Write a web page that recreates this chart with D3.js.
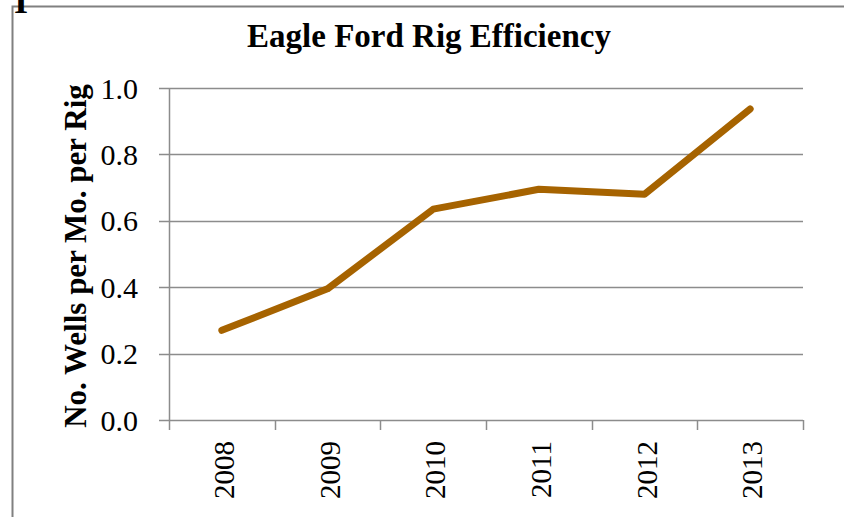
<!DOCTYPE html>
<html>
<head>
<meta charset="utf-8">
<script src="https://cdn.jsdelivr.net/npm/d3@7"></script>
<style>
  body { margin: 0; background: #fff; }
  text { font-family: "Liberation Serif", "Times New Roman", serif; }
</style>
</head>
<body>
<svg id="chart"></svg>
<script>
var width = 844; // size of the page
var height = 517;

// chart data
var years = ["2008", "2009", "2010", "2011", "2012", "2013"];
var wellsPerRig = [0.27, 0.395, 0.635, 0.695, 0.68, 0.937];
var yTicks = [0, 0.2, 0.4, 0.6, 0.8, 1.0];

var margin = { top: 88, right: 41, bottom: 97, left: 169 };

var svg = d3.select("#chart")
    .attr("width", width)
    .attr("height", height);

// outer frame (cut off at the right and bottom)
svg.append("path")
    .attr("d", "M12.5," + height + "V6.5H" + width)
    .attr("fill", "none")
    .attr("stroke", "#808080")
    .attr("stroke-width", 2);

// cropped glyph at the top left corner
svg.append("text")
    .attr("x", 21)
    .attr("y", 13)
    .attr("text-anchor", "middle")
    .style("font-size", "36px")
    .style("font-weight", "bold")
    .text("I");

var x = d3.scalePoint()
    .domain(years)
    .range([margin.left, width - margin.right])
    .padding(0.5);

var xBand = d3.scaleBand()
    .domain(years)
    .range([margin.left, width - margin.right]);

var y = d3.scaleLinear()
    .domain([0, 1])
    .range([height - margin.bottom, margin.top]);

// horizontal gridlines with small ticks to the left
svg.append("g")
    .selectAll("line")
    .data(yTicks)
    .enter().append("line")
    .attr("x1", margin.left - 10)
    .attr("x2", width - margin.right)
    .attr("y1", function (d) { return Math.round(y(d)) + 0.5; })
    .attr("y2", function (d) { return Math.round(y(d)) + 0.5; })
    .attr("stroke", "#8c8c8c")
    .attr("stroke-width", 1.5);

// y axis line
svg.append("line")
    .attr("x1", margin.left + 0.5)
    .attr("x2", margin.left + 0.5)
    .attr("y1", y(1))
    .attr("y2", y(0))
    .attr("stroke", "#8c8c8c")
    .attr("stroke-width", 1.5);

// x axis ticks at band edges
var edges = years.map(function (d) { return xBand(d); });
edges.push(width - margin.right);
svg.append("g")
    .selectAll("line")
    .data(edges)
    .enter().append("line")
    .attr("x1", function (d) { return Math.round(d) + 0.5; })
    .attr("x2", function (d) { return Math.round(d) + 0.5; })
    .attr("y1", y(0))
    .attr("y2", y(0) + 10)
    .attr("stroke", "#8c8c8c")
    .attr("stroke-width", 1.5);

// y tick labels
svg.append("g")
    .selectAll("text")
    .data(yTicks)
    .enter().append("text")
    .attr("x", margin.left - 31)
    .attr("y", function (d) { return y(d); })
    .attr("dy", "0.35em")
    .attr("text-anchor", "end")
    .style("font-size", "30px")
    .text(function (d) { return d3.format(".1f")(d); });

// x tick labels, rotated
svg.append("g")
    .selectAll("text")
    .data(years)
    .enter().append("text")
    .attr("transform", function (d) {
        return "translate(" + (x(d) + 12) + "," + (y(0) + 21) + ") rotate(-90)";
    })
    .attr("text-anchor", "end")
    .style("font-size", "29px")
    .text(function (d) { return d; });

// the line
var line = d3.line()
    .x(function (d, i) { return x(years[i]); })
    .y(function (d) { return y(d); });

svg.append("path")
    .datum(wellsPerRig)
    .attr("d", line)
    .attr("fill", "none")
    .attr("stroke", "#a66300")
    .attr("stroke-width", 7)
    .attr("stroke-linecap", "round")
    .attr("stroke-linejoin", "round");

// title
svg.append("text")
    .attr("x", 429)
    .attr("y", 47)
    .attr("text-anchor", "middle")
    .style("font-size", "33px")
    .style("font-weight", "bold")
    .text("Eagle Ford Rig Efficiency");

// y axis title
svg.append("text")
    .attr("transform", "translate(86," + 256 + ") rotate(-90)")
    .attr("text-anchor", "middle")
    .style("font-size", "31px")
    .style("font-weight", "bold")
    .text("No. Wells per Mo. per Rig");
</script>
</body>
</html>
